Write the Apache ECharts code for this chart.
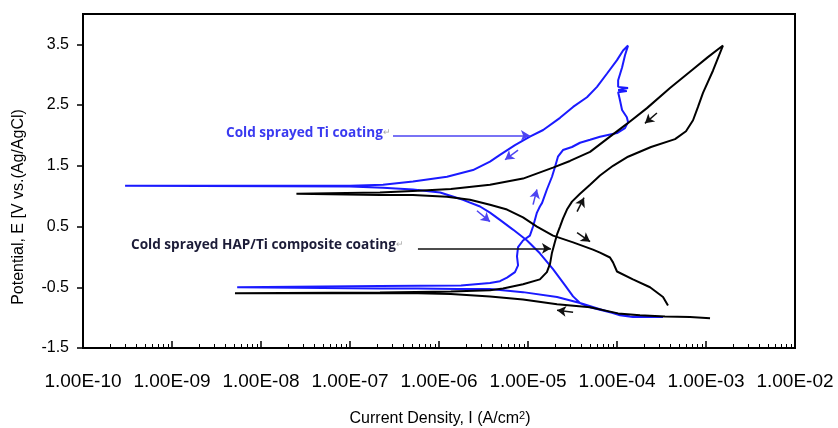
<!DOCTYPE html>
<html>
<head>
<meta charset="utf-8">
<script src="https://cdn.jsdelivr.net/npm/echarts@6/dist/echarts.min.js"></script>
<style>html,body{margin:0;padding:0;background:#fff}#c{width:838px;height:428px}</style>
</head>
<body>
<div id="c"></div>
<script>
// ---- data (current density A/cm2, potential V) ----
var tiCurrent = [3.29e-4,1.51e-4,1.08e-4,6.44e-5,3.84e-5,2.12e-5,8.79e-6,3.74e-6,1.63e-6,5.8e-7,2.17e-7,5.4e-9,
  2.17e-7,1.77e-6,3.74e-6,4.84e-6,5.81e-6,7.14e-6,7.73e-6,7.52e-6,7.73e-6,8.79e-6,1.05e-5,1.14e-5,1.26e-5,1.36e-5,1.44e-5,1.63e-5,1.86e-5,2.01e-5,2.17e-5,2.47e-5,3.12e-5,3.84e-5,4.98e-5,6.44e-5,1.0e-4,1.23e-4,1.33e-4,1.29e-4,1.14e-4,1.08e-4,1.03e-4,1.29e-4,1.03e-4,1.33e-4,1.03e-4,1.03e-4,1.14e-4,1.23e-4,1.33e-4,
  1.17e-4,1.0e-4,7.73e-5,5.96e-5,4.6e-5,3.21e-5,2.29e-5,1.48e-5,1.05e-5,7.14e-6,4.84e-6,3.74e-6,2.41e-6,1.23e-6,5.1e-7,2.35e-7,1e-7,2.97e-10,
  1e-7,2.35e-7,5.1e-7,1.03e-6,1.86e-6,2.89e-6,3.74e-6,4.84e-6,6.78e-6,9.75e-6,1.36e-5,1.91e-5,2.61e-5,3.21e-5,3.84e-5,4.98e-5,8.34e-5,1.4e-4,3.29e-4];
var tiPotential = [-0.99,-0.99,-0.96,-0.86,-0.76,-0.66,-0.58,-0.53,-0.53,-0.52,-0.52,-0.50,
  -0.48,-0.47,-0.43,-0.40,-0.34,-0.25,-0.14,0.01,0.16,0.27,0.35,0.50,0.73,0.83,0.89,1.11,1.32,1.48,1.65,1.76,1.81,1.88,1.93,1.98,2.04,2.12,2.22,2.30,2.42,2.58,2.71,2.73,2.75,2.78,2.80,2.91,3.12,3.32,3.48,
  3.40,3.24,3.02,2.80,2.63,2.47,2.29,2.09,1.98,1.84,1.68,1.57,1.43,1.32,1.24,1.19,1.17,1.17,
  1.16,1.14,1.11,1.06,0.94,0.83,0.73,0.61,0.45,0.27,0.06,-0.20,-0.47,-0.65,-0.76,-0.83,-0.91,-0.98,-0.99];

var hapCurrent = [1.11e-3,6.61e-4,3.46e-4,1.81e-4,1.03e-4,4.98e-5,2.12e-5,8.79e-6,3.74e-6,1.36e-6,5.8e-7,2.17e-7,5.1e-9,
  2.17e-7,1.36e-6,3.74e-6,5.24e-6,8.79e-6,1.36e-5,1.63e-5,1.77e-5,1.86e-5,2.01e-5,2.12e-5,2.29e-5,2.47e-5,2.74e-5,3.12e-5,3.84e-5,4.98e-5,6.44e-5,9.02e-5,1.33e-4,2.41e-4,4.49e-4,5.96e-4,7.15e-4,8.13e-4,9.25e-4,1.2e-3,1.55e-3,
  1.05e-3,7.15e-4,3.94e-4,2.17e-4,1.29e-4,8.34e-5,4.98e-5,2.96e-5,1.91e-5,8.79e-6,3.74e-6,1.36e-6,5.8e-7,2.17e-7,2.5e-8,
  2.17e-7,5.1e-7,1.23e-6,2.23e-6,3.74e-6,5.81e-6,8.79e-6,1.26e-5,1.91e-5,3.21e-5,5.37e-5,6.44e-5,8.34e-5,9.02e-5,1.0e-4,1.51e-4,2.35e-4,3.29e-4,3.74e-4];
var hapPotential = [-1.01,-0.99,-0.98,-0.96,-0.93,-0.83,-0.78,-0.70,-0.65,-0.61,-0.60,-0.60,-0.60,
  -0.585,-0.57,-0.55,-0.52,-0.45,-0.37,-0.25,-0.11,0.07,0.25,0.37,0.50,0.63,0.78,0.91,1.04,1.19,1.34,1.50,1.65,1.81,1.94,2.07,2.25,2.47,2.70,3.07,3.48,
  3.29,3.09,2.78,2.45,2.19,1.98,1.73,1.58,1.47,1.29,1.19,1.12,1.09,1.06,1.04,
  1.02,1.02,0.99,0.94,0.86,0.78,0.65,0.50,0.35,0.24,0.12,0.07,-0.01,-0.09,-0.24,-0.37,-0.50,-0.66,-0.80];

// direction arrows [x1,y1,x2,y2] in data units
var tiArrows = [[3.04e-7,2.0,1.05e-5,2.0],[7.73e-6,1.76,5.52e-6,1.60],[1.14e-5,0.86,1.26e-5,1.11],[2.67e-6,0.76,3.74e-6,0.58]];
var hapArrows = [[5.8e-7,0.14,1.81e-5,0.14],[2.81e-4,2.37,2.06e-4,2.20],[3.56e-5,0.746,4.26e-5,0.975],[3.56e-5,0.40,4.98e-5,0.25],[3.21e-5,-0.91,2.12e-5,-0.88]];

var xMajor = [1e-10,1e-9,1e-8,1e-7,1e-6,1e-5,1e-4,1e-3,1e-2];
var yTicks = [-1.5,-0.5,0.5,1.5,2.5,3.5];

// ---- build ----
var xMinor = [];
for (var d = -10; d < -2; d++) { for (var m = 2; m <= 9; m++) xMinor.push(m * Math.pow(10, d)); }
function zip(a, b) { return a.map(function (v, i) { return [v, b[i]]; }); }
function arrowLines(arr) {
  return arr.map(function (a) { return [{ coord: [a[0], a[1]] }, { coord: [a[2], a[3]] }]; });
}
function fmtE(v) {
  var e = Math.round(Math.log10(v));
  return '1.00E' + (e < 0 ? '-' : '+') + String(Math.abs(e)).padStart(2, '0');
}
var chart = echarts.init(document.getElementById('c'));
var axFont = 'Liberation Sans, Arial, sans-serif';
var annFont = { fontFamily: 'Open Sans', fontWeight: 'bold', fontSize: 13.6 };
chart.setOption({
  animation: false,
  backgroundColor: '#fff',
  grid: { left: 83, right: 43, top: 14, bottom: 80, show: true, borderColor: '#000', borderWidth: 2, containLabel: false },
  xAxis: [{
    type: 'log', logBase: 10, min: 1e-10, max: 1e-2, splitNumber: 8, position: 'bottom',
    axisLine: { show: true, onZero: false, lineStyle: { color: '#000', width: 2 } },
    axisTick: { show: true, inside: true, length: 7, lineStyle: { color: '#000', width: 1.5 }, customValues: xMajor },
    axisLabel: { show: true, fontSize: 19, color: '#000', fontFamily: axFont, margin: 24, formatter: fmtE, customValues: xMajor },
    splitLine: { show: false }, minorTick: { show: false }
  }, {
    type: 'log', logBase: 10, min: 1e-10, max: 1e-2, position: 'bottom', gridIndex: 0,
    axisLine: { show: false, onZero: false },
    axisTick: { show: true, inside: true, length: 4, lineStyle: { color: '#000', width: 1 }, customValues: xMinor },
    axisLabel: { show: false }, splitLine: { show: false }
  }],
  yAxis: {
    type: 'value', min: -1.5, max: 4, interval: 1,
    axisLine: { show: true, onZero: false, lineStyle: { color: '#000', width: 2 } },
    axisTick: { show: true, inside: false, length: 6, lineStyle: { color: '#000', width: 1.5 }, customValues: yTicks },
    axisLabel: { fontSize: 16, color: '#000', fontFamily: axFont, margin: 14, customValues: yTicks,
      formatter: function (v) { return v.toFixed(1); } },
    splitLine: { show: false }
  },
  series: [{
    name: 'Cold sprayed Ti coating', type: 'line', xAxisIndex: 0, showSymbol: false, symbol: 'none',
    data: zip(tiCurrent, tiPotential), lineStyle: { color: '#1a1aff', width: 2 }, itemStyle: { color: '#1a1aff' },
    markLine: { silent: true, symbol: ['none', 'arrow'], symbolSize: [8, 9], label: { show: false },
      lineStyle: { color: '#4d44f2', width: 1.5, type: 'solid' }, data: arrowLines(tiArrows) }
  }, {
    name: 'Cold sprayed HAP/Ti composite coating', type: 'line', xAxisIndex: 0, showSymbol: false, symbol: 'none',
    data: zip(hapCurrent, hapPotential), lineStyle: { color: '#000', width: 2 }, itemStyle: { color: '#000' },
    markLine: { silent: true, symbol: ['none', 'arrow'], symbolSize: [8, 9], label: { show: false },
      lineStyle: { color: '#111', width: 1.5, type: 'solid' }, data: arrowLines(hapArrows) }
  }],
  graphic: [
    { type: 'text', left: 226, top: 126, style: { text: '{a|Cold sprayed Ti coating}{b|↵}',
      rich: { a: Object.assign({ fill: '#3a3af0' }, annFont), b: { fontSize: 9, fill: '#aaa' } } } },
    { type: 'text', left: 131, top: 238, style: { text: '{a|Cold sprayed HAP/Ti composite coating}{b|↵}',
      rich: { a: Object.assign({ fill: '#1c1c38' }, annFont), b: { fontSize: 9, fill: '#aaa' } } } },
    { type: 'text', x: 19, y: 207, rotation: Math.PI / 2, style: { text: 'Potential, E [V vs.(Ag/AgCl)',
      fontFamily: axFont, fontSize: 16, fill: '#000', align: 'center', verticalAlign: 'middle' } },
    { type: 'text', x: 440, y: 419, style: { text: '{a|Current Density, I (A/cm}{s|2}{a|)}', align: 'center', verticalAlign: 'middle',
      rich: { a: { fontFamily: axFont, fontSize: 16, fill: '#000', lineHeight: 18 }, s: { fontFamily: axFont, fontSize: 11, fill: '#000', verticalAlign: 'top', lineHeight: 11 } } } }
  ]
});
</script>
</body>
</html>
